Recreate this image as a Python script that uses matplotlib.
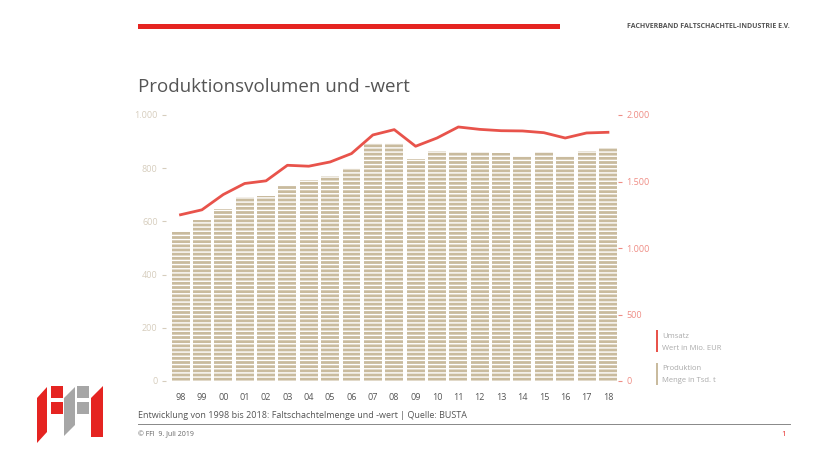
import matplotlib
matplotlib.use("Agg")
import matplotlib.pyplot as plt
from matplotlib.patches import Polygon, Rectangle
import numpy as np

# data
years = ["98", "99", "00", "01", "02", "03", "04", "05", "06", "07", "08",
         "09", "10", "11", "12", "13", "14", "15", "16", "17", "18"]
produktion = [562, 607, 645, 690, 696, 736, 755, 772, 801, 896, 894,
              835, 866, 862, 860, 856, 845, 862, 847, 864, 876]   # Tsd. t
umsatz = [1250, 1287, 1402, 1485, 1505, 1622, 1615, 1647, 1710, 1850, 1890,
          1765, 1827, 1910, 1892, 1882, 1880, 1867, 1827, 1865, 1870]  # Mio. EUR
left_ticks = [0, 200, 400, 600, 800, 1000]
left_labels = ["0", "200", "400", "600", "800", "1.000"]
right_ticks = [0, 500, 1000, 1500, 2000]
right_labels = ["0", "500", "1.000", "1.500", "2.000"]

tan = "#c9bb9e"
red = "#e8534b"
plt.rcParams["font.family"] = ["Open Sans", "DejaVu Sans"]
plt.rcParams["hatch.linewidth"] = 1.0

W, H = 813, 457
fig = plt.figure(figsize=(W / 100, H / 100), dpi=100)

ax = fig.add_axes([166 / W, 1 - 381 / H, (618 - 166) / W, (381 - 115) / H])
x = np.arange(len(years))
ax.bar(x, produktion, width=0.84, color=tan, edgecolor="white", linewidth=0,
       hatch="----")
ax.set_xlim(-0.68, len(years) - 1 + 0.47)
ax.set_ylim(0, 1000)
ax.set_yticks(left_ticks)
ax.set_yticklabels(left_labels)
ax.set_xticks(x)
ax.set_xticklabels(years)
ax.tick_params(axis="y", colors="#d6cdbd", labelsize=6.5, length=3, width=0.8, pad=3)
ax.tick_params(axis="x", length=0, labelsize=6.5, labelcolor="#555555", pad=9)
for s in ax.spines.values():
    s.set_visible(False)

ax2 = ax.twinx()
ax2.plot(x, umsatz, color=red, linewidth=2, solid_joinstyle="round")
ax2.set_ylim(0, 2000)
ax2.set_yticks(right_ticks)
ax2.set_yticklabels(right_labels)
ax2.tick_params(axis="y", colors="#ef8d85", labelsize=6.5, length=3, width=0.8, pad=3)
for s in ax2.spines.values():
    s.set_visible(False)

# page furniture in pixel coordinates
deco = fig.add_axes([0, 0, 1, 1], zorder=-1)
deco.set_xlim(0, W)
deco.set_ylim(H, 0)
deco.axis("off")

deco.add_patch(Rectangle((138, 24), 422, 5, color="#e52421", lw=0))
fig.text(790 / W, 1 - 27 / H, "FACHVERBAND FALTSCHACHTEL-INDUSTRIE E.V.",
         ha="right", va="center", fontsize=5, color="#555555", weight="bold")
fig.text(138 / W, 1 - 87 / H, "Produktionsvolumen und -wert",
         ha="left", va="center", fontsize=13.5, color="#555555")

# legend
deco.add_patch(Rectangle((656, 330), 2, 22, color=red, lw=0))
deco.add_patch(Rectangle((656, 363), 2, 22, color=tan, lw=0))
for ty, txt in [(336, "Umsatz"), (348, "Wert in Mio. EUR"),
                (369, "Produktion"), (381, "Menge in Tsd. t")]:
    fig.text(662 / W, 1 - ty / H, txt, ha="left", va="center",
             fontsize=5.5, color="#aaaaaa")

fig.text(138 / W, 1 - 416 / H,
         "Entwicklung von 1998 bis 2018: Faltschachtelmenge und -wert | Quelle: BUSTA",
         ha="left", va="center", fontsize=6.5, color="#555555")
deco.plot([138, 790], [424, 424], color="#888888", lw=0.7)
fig.text(138 / W, 1 - 435 / H, "\u00a9 FFI  9. Juli 2019", ha="left", va="center",
         fontsize=5, color="#666666")
fig.text(786 / W, 1 - 435 / H, "1", ha="right", va="center",
         fontsize=5.5, color="#e52421")

# FFI logo
logo_red = "#e52421"
logo_grey = "#a6a6a6"
logo = [
    ([(37, 398), (47, 387), (47, 432), (37, 443)], logo_red),
    ([(51, 386), (63, 386), (63, 398), (51, 398)], logo_red),
    ([(51, 402), (63, 402), (63, 414), (51, 414)], logo_red),
    ([(64, 398), (75, 387), (75, 425), (64, 436)], logo_grey),
    ([(77, 386), (89, 386), (89, 398), (77, 398)], logo_grey),
    ([(77, 402), (89, 402), (89, 414), (77, 414)], logo_grey),
    ([(91, 398), (103, 386), (103, 437), (91, 437)], logo_red),
]
for pts, col in logo:
    deco.add_patch(Polygon(pts, closed=True, color=col, lw=0))

fig.savefig("out.png", dpi=100)
